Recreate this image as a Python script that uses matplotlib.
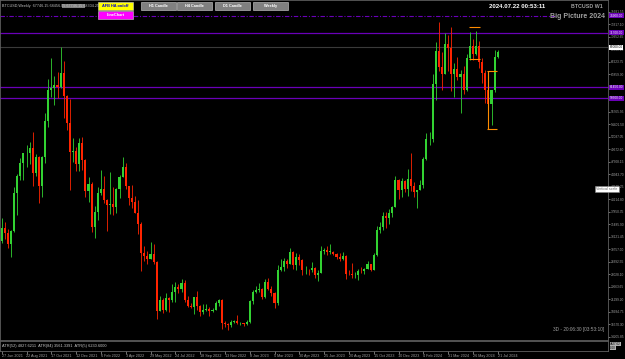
import matplotlib
matplotlib.use("Agg")
import matplotlib.pyplot as plt
from matplotlib.patches import Rectangle
from matplotlib.transforms import blended_transform_factory
import numpy as np

# ---------------- data (weekly BTCUSD, weeks from 27 Jun 2021) ----------------
opens = [32250, 34700, 33800, 31700, 34300, 41500, 44600, 47100, 48900, 49000,
         49900, 45200, 48300, 42700, 48200, 55000, 60800, 61300, 61800, 61500,
         64100, 59700, 54700, 49200, 49300, 46800, 50800, 47700, 41800, 43100,
         35000, 37900, 41500, 42200, 40000, 39100, 39400, 38800, 42200, 44500,
         46400, 42700, 40500, 39700, 37700, 35500, 30100, 29400, 29000, 29900,
         28400, 19000, 21200, 19300, 21600, 21200, 22600, 23600, 23200, 24400,
         21200, 20000, 19800, 21800, 20100, 18900, 19300, 19400, 19100, 19200,
         20600, 21200, 16800, 16700, 16500, 17000, 17100, 16800, 16800, 16600,
         16950, 20900, 22700, 23000, 23300, 21800, 24600, 23200, 22400, 20600,
         26900, 27500, 28500, 28000, 30300, 27800, 29300, 28800, 26800, 26900,
         26850, 27200, 25800, 26300, 30500, 30600, 30300, 30300, 29800, 29300,
         29000, 29400, 26100, 26000, 25800, 25900, 26600, 26580, 27000, 27900,
         26900, 29700, 34500, 35000, 37100, 36600, 37700, 38700, 43800, 41900,
         43700, 42200, 44000, 42800, 41600, 42000, 43000, 47800, 51600, 51700,
         62000, 68300, 65300, 64000, 69600, 68900, 63900, 64900, 63400, 64000,
         60800, 67000, 69300, 67700, 69300, 66200, 64200, 60800, 58300, 60800,
         67100]
highs = [36600, 35900, 34600, 34500, 42500, 45000, 48100, 49000, 50500, 51000,
         52900, 48800, 48400, 48500, 56500, 62900, 67000, 63600, 64300, 69000,
         66300, 59900, 59200, 51900, 50200, 51800, 52000, 47900, 44400, 43500,
         38900, 42600, 45800, 44700, 40300, 45400, 42600, 42300, 44800, 48200,
         47100, 42800, 42900, 40800, 40000, 36000, 31400, 30500, 32200, 31700,
         28500, 21900, 21500, 22500, 21700, 24200, 24600, 24100, 25200, 25000,
         21900, 20600, 21800, 22800, 20200, 20400, 20500, 19900, 19700, 21000,
         21400, 21400, 17200, 16800, 17400, 17400, 18400, 17000, 16900, 17300,
         21200, 23000, 23800, 24300, 23500, 25200, 25300, 23900, 22600, 27800,
         28900, 29200, 29000, 31000, 30500, 30000, 29800, 29000, 27600, 27000,
         28400, 27400, 26800, 31400, 31000, 31400, 31800, 30400, 30000, 30000,
         30200, 29600, 26800, 28100, 26400, 27000, 27500, 27200, 28600, 28000,
         30000, 35200, 35900, 37900, 37900, 38400, 39000, 44700, 44100, 44300,
         43800, 45900, 49000, 43500, 41900, 43900, 48200, 52800, 53000, 64000,
         70000, 73800, 68100, 71700, 71300, 72800, 66000, 67200, 64700, 65500,
         67700, 71900, 70600, 72000, 70200, 67000, 64600, 63800, 60000, 68400,
         68400]
lows = [32000, 32700, 31000, 29300, 34000, 37300, 43800, 43900, 46300, 46800,
        42800, 44700, 39600, 40700, 47100, 53900, 59600, 58000, 59400, 61300,
        55600, 53300, 42000, 47300, 45600, 45500, 45700, 40600, 39700, 34000,
        32900, 36300, 41100, 39600, 34300, 37500, 37200, 37600, 40500, 44400,
        42100, 39200, 38600, 37600, 33700, 26700, 28600, 28000, 29000, 28000,
        17600, 19000, 18700, 19000, 18900, 20800, 20800, 22500, 22700, 20800,
        19900, 19600, 18600, 19300, 18200, 18500, 19100, 18200, 18900, 19200,
        20100, 15600, 16000, 15500, 16000, 16900, 16600, 16400, 16300, 16500,
        16900, 20400, 22400, 22600, 21400, 21500, 23100, 22000, 19600, 20300,
        26600, 26600, 27200, 28000, 27100, 26900, 27700, 25900, 26100, 25900,
        26500, 25400, 24800, 26200, 29900, 29700, 29900, 29600, 29000, 28600,
        28800, 25200, 25800, 25400, 25400, 24900, 26300, 26000, 27000, 26600,
        26800, 29500, 33900, 34500, 34800, 35600, 36900, 38700, 40200, 40600,
        41600, 40800, 41700, 40700, 38500, 41900, 42300, 47700, 50500, 51000,
        59000, 64500, 60800, 64000, 64500, 60700, 59600, 62800, 56500, 60200,
        60700, 66600, 66600, 67600, 65100, 62300, 58400, 53500, 54300, 60600,
        67000]
closes = [34700, 33800, 31700, 34300, 41500, 44600, 47100, 48900, 49000, 49900,
          45200, 48300, 42700, 48200, 55000, 60800, 61300, 61800, 61500, 64100,
          59700, 54700, 49200, 49300, 46800, 50800, 47700, 41800, 43100, 35000,
          37900, 41500, 42200, 40000, 39100, 39400, 38800, 42200, 44500, 46400,
          42700, 40500, 39700, 37700, 35500, 30100, 29400, 29000, 29900, 28400,
          19000, 21200, 19300, 21600, 21200, 22600, 23600, 23200, 24400, 21200,
          20000, 19800, 21800, 20100, 18900, 19300, 19400, 19100, 19200, 20600,
          21200, 16800, 16700, 16500, 17000, 17100, 16800, 16800, 16600, 16950,
          20900, 22700, 23000, 23300, 21800, 24600, 23200, 22400, 20600, 26900,
          27500, 28500, 28000, 30300, 27800, 29300, 28800, 26800, 26900, 26850,
          27200, 25800, 26300, 30500, 30600, 30300, 30300, 29800, 29300, 29000,
          29400, 26100, 26000, 25800, 25900, 26600, 26580, 27000, 27900, 26900,
          29700, 34500, 35000, 37100, 36600, 37700, 38700, 43800, 41900, 43700,
          42200, 44000, 42800, 41600, 42000, 43000, 47800, 51600, 51700, 62000,
          68300, 65300, 64000, 69600, 68900, 63900, 64900, 63400, 64000, 60800,
          67000, 69300, 67700, 69300, 66200, 64200, 60800, 58300, 60800, 67100,
          68000]

date_labels = ["27 Jun 2021", "22 Aug 2021", "17 Oct 2021", "12 Dec 2021", "6 Feb 2022",
               "3 Apr 2022", "29 May 2022", "24 Jul 2022", "18 Sep 2022", "13 Nov 2022",
               "8 Jan 2023", "5 Mar 2023", "30 Apr 2023", "25 Jun 2023", "20 Aug 2023",
               "15 Oct 2023", "10 Dec 2023", "4 Feb 2024", "31 Mar 2024", "26 May 2024",
               "21 Jul 2024"]
label_step_weeks = 8

# horizontal levels drawn on the chart
purple_levels = [71700, 61450, 59300]
dashed_level = 74900
bid_price = 69000

# price scale ticks
scale_first = 14205.85
scale_step = 2364.45

# orange range brackets (bar index start, end, top, bottom)
bracket_x0 = [151, 157]
bracket_x1 = [154, 159.5]
bracket_top = [72800, 64500]
bracket_bot = [66700, 53600]

atr_text = "ATR(52) 4827.6211  ATR(84) 3561.3391  ATR(5) 6230.6000"

# ---------------- figure ----------------
W, H = 625, 359
plt.rcParams["font.family"] = ["Liberation Sans Narrow", "Liberation Sans", "DejaVu Sans"]
fig = plt.figure(figsize=(W / 100, H / 100), dpi=100, facecolor="black")


def rect(x0, y0, x1, y1):
    return [x0 / W, 1 - y1 / H, (x1 - x0) / W, (y1 - y0) / H]


PX_R = 608
ax = fig.add_axes(rect(0, 0, PX_R, 340))
ax.set_facecolor("black")
n = len(closes)
idx = np.arange(n)
bar_px = 3.1
x0_px = 1.7
xmin = -x0_px / bar_px
xmax = (PX_R - x0_px) / bar_px
ax.set_xlim(xmin, xmax)
y_top = 40214.8 + 199.3 * 189.2
y_bot = 40214.8 - (340 - 199.3) * 189.2
ax.set_ylim(y_bot, y_top)

green = "#32d232"
red = "#ff2400"
for i in idx:
    o, h, l, c = opens[i], highs[i], lows[i], closes[i]
    col = green if c >= o else red
    ax.vlines(i, l, h, color=col, linewidth=0.6, zorder=3)
    ax.add_patch(Rectangle((i - 0.33, min(o, c)), 0.66, max(abs(c - o), 60),
                           facecolor=col, edgecolor="none", zorder=4))

purple = "#6a00b8"
for lv in purple_levels:
    ax.axhline(lv, color=purple, linewidth=0.9, zorder=2)
ax.axhline(dashed_level, color=purple, linewidth=0.8, linestyle=(0, (4, 1.5, 1, 1.5)), zorder=2,
           xmax=(555 / PX_R))
ax.axhline(bid_price, color="#3a3a3a", linewidth=0.8, zorder=1)

for a, b, t, btm in zip(bracket_x0, bracket_x1, bracket_top, bracket_bot):
    ax.hlines([t, btm], a - 0.3, b + 0.3, color="#ff8c00", linewidth=0.8, zorder=5)
ax.vlines(bracket_x0[1], bracket_bot[1], bracket_top[1], color="#ff8c00", linewidth=0.8, zorder=5)

# price scale
ticks = [scale_first + k * scale_step for k in range(0, 30)]
ticks = [t for t in ticks if y_bot < t < y_top - 2000]
ax.yaxis.tick_right()
ax.set_yticks(ticks)
ax.set_yticklabels([f"{t:.2f}" for t in ticks])
ax.tick_params(axis="y", colors="#a0a0a0", labelsize=2.3, length=1.5, width=0.5, pad=0.5)
ax.set_xticks([])
for s in ax.spines.values():
    s.set_color("#606060")
    s.set_linewidth(0.6)

# level labels on price scale
tr = blended_transform_factory(ax.transAxes, ax.transData)
for lv in purple_levels + [dashed_level]:
    ax.text(1.003, lv, f"{lv:.2f}", transform=tr, fontsize=2.3, color="white", va="center", ha="left",
            bbox=dict(boxstyle="square,pad=0.15", facecolor=purple, edgecolor="none"), zorder=6, clip_on=False)
ax.text(1.003, bid_price, f"{bid_price:.2f}", transform=tr, fontsize=2.3, color="black", va="center", ha="left",
        bbox=dict(boxstyle="square,pad=0.15", facecolor="white", edgecolor="none"), zorder=6, clip_on=False)

# ---------------- indicator sub-window ----------------
axi = fig.add_axes(rect(0, 341, PX_R, 351))
axi.set_facecolor("black")
axi.set_xlim(xmin, xmax)
axi.set_ylim(0, 1)
axi.set_yticks([])
for s in axi.spines.values():
    s.set_color("#606060")
    s.set_linewidth(0.6)
axi.text(0.004, 0.5, atr_text, transform=axi.transAxes, fontsize=2.8, color="#c8c8c8", va="center", ha="left")
tick_pos = [k * label_step_weeks for k in range(len(date_labels))]
axi.set_xticks(tick_pos)
axi.set_xticklabels(date_labels)
axi.tick_params(axis="x", colors="#a0a0a0", labelsize=2.7, length=2, width=0.5, pad=0.5)
for lab in axi.get_xticklabels():
    lab.set_horizontalalignment("left")
for k, yy in enumerate([344, 348]):
    fig.text(610 / W, 1 - yy / H, "4827.62" if k == 0 else "0.00", fontsize=2.2, color="black",
             va="center", ha="left", bbox=dict(boxstyle="square,pad=0.1", facecolor="#b0b0b0", edgecolor="none"))

# ---------------- header texts and buttons ----------------
fig.text(2 / W, 1 - 6 / H, "BTCUSD,Weekly  67746.15 68456.05 67746.15 68304.25", fontsize=2.7, color="#c0c0c0",
         va="center", ha="left")
fig.patches.append(Rectangle((62 / W, 1 - 8 / H), 23 / W, 4 / H, transform=fig.transFigure,
                             facecolor="#808080", edgecolor="none"))


def button(x0, y0, x1, y1, label, fc, tc):
    fig.patches.append(Rectangle((x0 / W, 1 - y1 / H), (x1 - x0) / W, (y1 - y0) / H, transform=fig.transFigure,
                                 facecolor=fc, edgecolor="#d0d0d0", linewidth=0.4))
    fig.text((x0 + x1) / 2 / W, 1 - (y0 + y1) / 2 / H, label, fontsize=2.8, color=tc, fontweight="bold",
             va="center", ha="center")


button(98, 2, 133, 10, "AFB HA on/off", "#ffff00", "#0000cc")
button(98, 11.5, 133, 18.5, "LineChart", "#ff00ff", "white")
button(141, 2, 176, 10, "H1 Candle", "#808080", "white")
button(177, 2, 212, 10, "H4 Candle", "#808080", "white")
button(215, 2, 250, 10, "D1 Candle", "#808080", "white")
button(253, 2, 288, 10, "Weekly", "#808080", "white")

fig.text(545 / W, 1 - 6 / H, "2024.07.22 00:53:11", fontsize=4.4, color="white", fontweight="bold",
         va="center", ha="right")
fig.text(603 / W, 1 - 6 / H, "BTCUSD W1", fontsize=3.8, color="#a0a0a0", fontweight="bold",
         va="center", ha="right")
fig.text(605 / W, 1 - 16 / H, "Big Picture 2024", fontsize=5, color="#a0a0a0", fontweight="bold",
         va="center", ha="right")
fig.text(604 / W, 1 - 330 / H, "3D - 20:06:30 [03:53:10]", fontsize=3.4, color="#a0a0a0",
         va="center", ha="right")
fig.text(607 / W, 1 - 189 / H, "Vertical scale", fontsize=2.6, color="#606060", va="center", ha="center",
         bbox=dict(boxstyle="square,pad=0.3", facecolor="white", edgecolor="#808080", linewidth=0.4), zorder=10)

fig.savefig("out.png", dpi=100, facecolor="black")
